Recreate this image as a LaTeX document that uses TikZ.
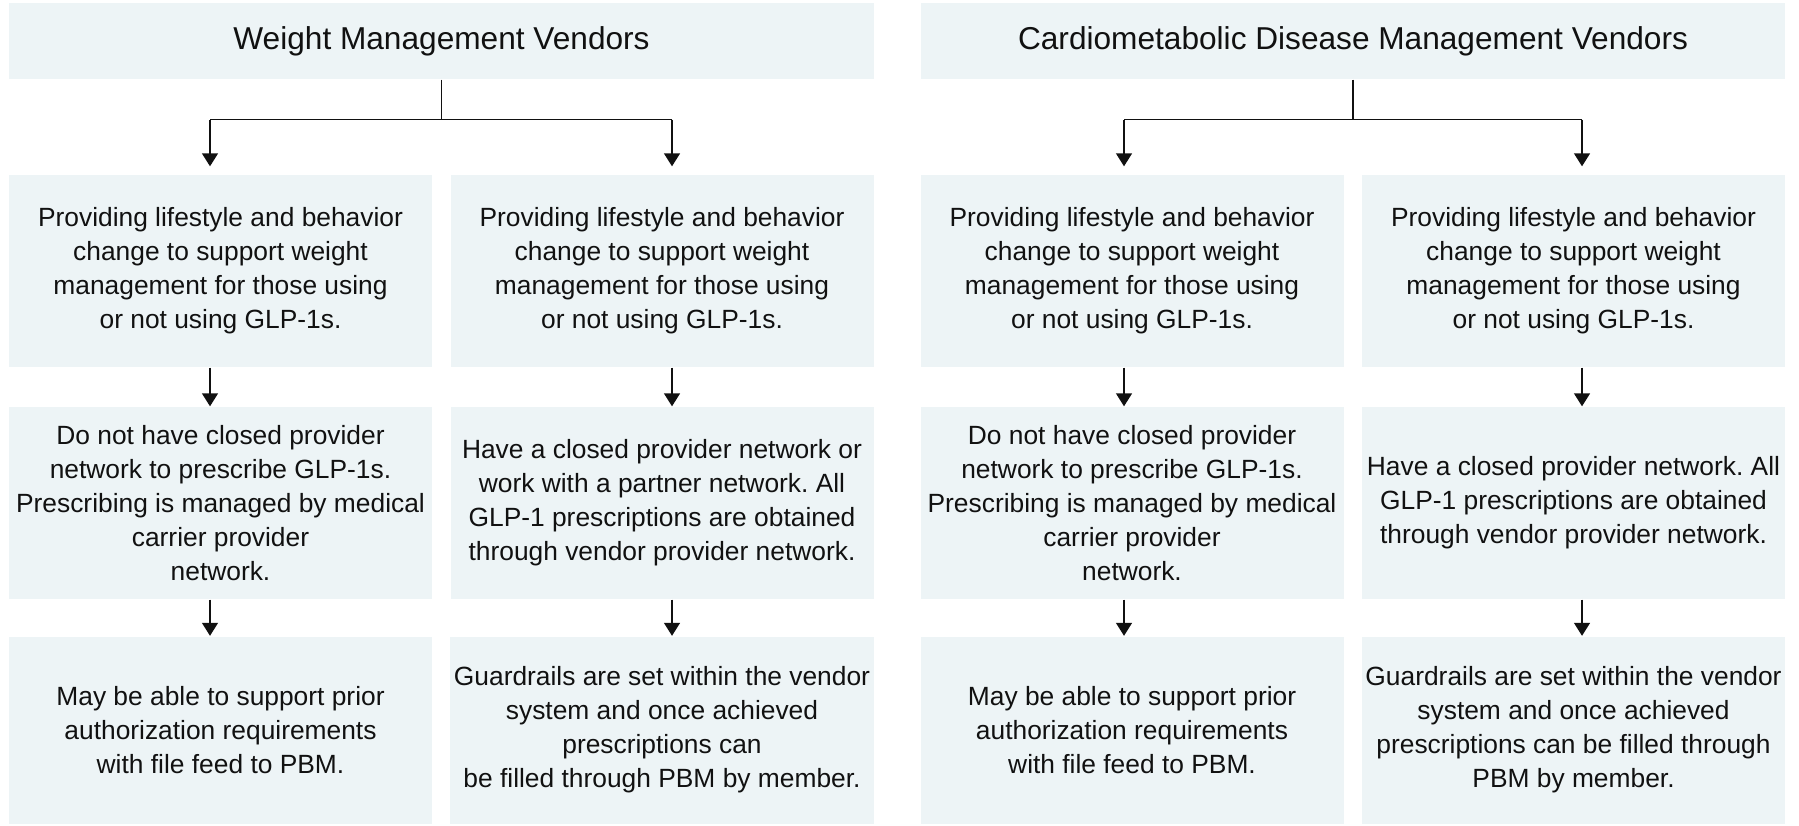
\documentclass[tikz,border=0pt]{standalone}
\usepackage{fontspec}
\setmainfont{Liberation Sans}
\usetikzlibrary{positioning,arrows.meta}
\definecolor{panel}{HTML}{EDF4F6}
\definecolor{ink}{HTML}{111111}
\frenchspacing

\begin{document}
\begin{tikzpicture}[
  every node/.style={font=\fontsize{7.5}{9.7}\selectfont, text=ink},
  box/.style={
    rectangle, fill=panel, draw=none, inner sep=1pt, align=center,
    minimum width=4.23cm, minimum height=1.92cm,
  },
  head/.style={box, minimum width=8.65cm, minimum height=0.76cm, font=\fontsize{9}{11}\selectfont},
  last/.style={box, minimum height=1.87cm},
  arr/.style ={-{Triangle[length=0.13cm, width=0.16cm]}, line width=0.4pt, ink},
  link/.style={line width=0.4pt, ink},
]

% ── Row Y-coordinates ──
\def\yHead{-0.41}
\def\yOne{-2.71}
\def\yTwo{-5.03}
\def\yThree{-7.30}

\useasboundingbox (0,0) rectangle (17.99,-8.25);

% ── Headers ──
\node[head]                     (wmv) at ( 4.415, \yHead) {Weight Management Vendors};
\node[head, minimum width=8.64cm] (cdm) at (13.53, \yHead) {Cardiometabolic Disease Management Vendors};

% ── Row 1: lifestyle support ──
\node[box] (wa1) at ( 2.205, \yOne) {Providing lifestyle and behavior\\change to support weight\\management for those using\\or not using GLP-1s.};
\node[box] (wb1) at ( 6.62,  \yOne) {Providing lifestyle and behavior\\change to support weight\\management for those using\\or not using GLP-1s.};
\node[box] (ca1) at (11.32,  \yOne) {Providing lifestyle and behavior\\change to support weight\\management for those using\\or not using GLP-1s.};
\node[box] (cb1) at (15.735, \yOne) {Providing lifestyle and behavior\\change to support weight\\management for those using\\or not using GLP-1s.};

% ── Row 2: provider network ──
\node[box] (wa2) at ( 2.205, \yTwo) {Do not have closed provider\\network to prescribe GLP-1s.\\Prescribing is managed by medical\\carrier provider\\network.};
\node[box] (wb2) at ( 6.62,  \yTwo) {Have a closed provider network or\\work with a partner network. All\\GLP-1 prescriptions are obtained\\through vendor provider network.};
\node[box] (ca2) at (11.32,  \yTwo) {Do not have closed provider\\network to prescribe GLP-1s.\\Prescribing is managed by medical\\carrier provider\\network.};
\node[box] (cb2) at (15.735, \yTwo) {Have a closed provider network. All\\GLP-1 prescriptions are obtained\\through vendor provider network.};

% ── Row 3: PBM ──
\node[last] (wa3) at ( 2.205, \yThree) {May be able to support prior\\authorization requirements\\with file feed to PBM.};
\node[last] (wb3) at ( 6.62,  \yThree) {Guardrails are set within the vendor\\system and once achieved\\prescriptions can\\be filled through PBM by member.};
\node[last] (ca3) at (11.32,  \yThree) {May be able to support prior\\authorization requirements\\with file feed to PBM.};
\node[last] (cb3) at (15.735, \yThree) {Guardrails are set within the vendor\\system and once achieved\\prescriptions can be filled through\\PBM by member.};

% ── Arrow lines (slightly off the box centres) ──
\coordinate (wa-x) at ([xshift=-0.105cm]wa1.north);
\coordinate (wb-x) at ([xshift= 0.10cm]wb1.north);
\coordinate (ca-x) at ([xshift=-0.08cm]ca1.north);
\coordinate (cb-x) at ([xshift= 0.085cm]cb1.north);

% ── Forks from the headers ──
\draw[link] (wmv.south) -- ++(0,-0.40) coordinate (wj);
\draw[link] (cdm.south) -- ++(0,-0.40) coordinate (cj);
\draw[link] (wa-x |- wj) -- (wb-x |- wj);
\draw[link] (ca-x |- cj) -- (cb-x |- cj);
\draw[arr, shorten >=0.08cm] (wa-x |- wj) -- (wa-x);
\draw[arr, shorten >=0.08cm] (wb-x |- wj) -- (wb-x);
\draw[arr, shorten >=0.08cm] (ca-x |- cj) -- (ca-x);
\draw[arr, shorten >=0.08cm] (cb-x |- cj) -- (cb-x);

% ── Down the columns ──
\foreach \c in {wa,wb,ca,cb} {
  \draw[arr] (\c-x |- \c1.south) -- (\c-x |- \c2.north);
  \draw[arr] (\c-x |- \c2.south) -- (\c-x |- \c3.north);
}

\end{tikzpicture}
\end{document}
